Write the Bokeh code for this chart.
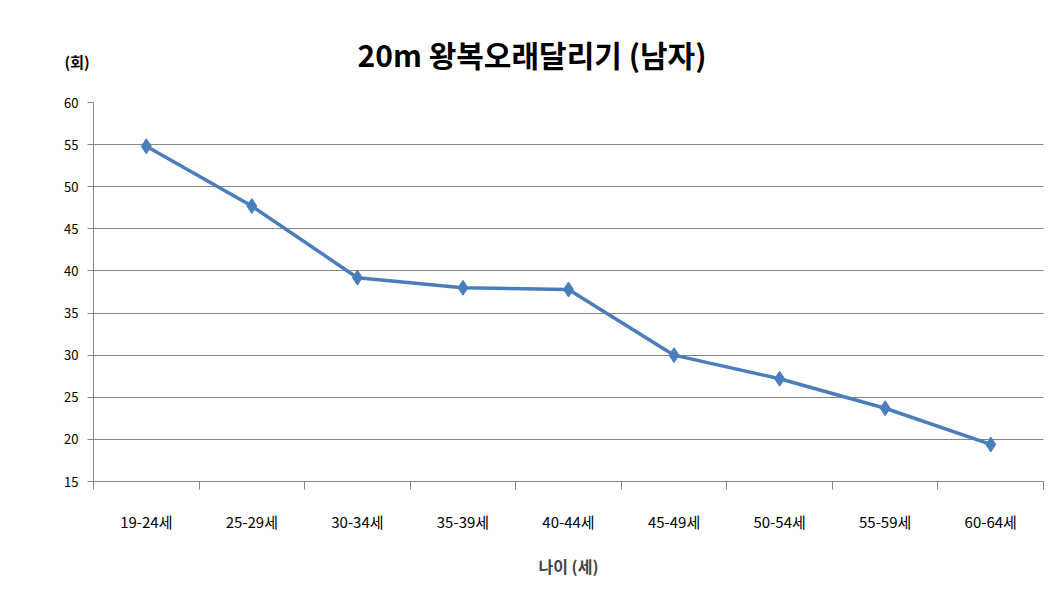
import numpy as np
from bokeh.plotting import figure
from bokeh.models import Range1d, FixedTicker, Title
from bokeh.embed import file_html
from bokeh.resources import INLINE

categories = ["19-24세", "25-29세", "30-34세", "35-39세", "40-44세",
              "45-49세", "50-54세", "55-59세", "60-64세"]
values = [54.8, 47.7, 39.2, 38.0, 37.8, 30.0, 27.2, 23.7, 19.4]
y_ticks = [15, 20, 25, 30, 35, 40, 45, 50, 55, 60]
title_text = "20m 왕복오래달리기 (남자)"
y_unit = "(회)"
x_title = "나이 (세)"

FONT = "Noto Sans CJK KR"
GRAY = "#868686"
BLUE = "#4A7EBB"

n = len(categories)
xs = np.arange(n) + 0.5

p = figure(width=1044, height=588, output_backend="svg", toolbar_location=None,
           x_range=Range1d(0, n), y_range=Range1d(15, 60),
           min_border_left=93, min_border_right=1, min_border_top=102, min_border_bottom=107)

p.title.text = title_text
p.title.align = "left"
p.title.offset = 264
p.title.text_font = FONT
p.title.text_font_size = "30px"
p.title.text_font_style = "bold"
p.title.text_color = "#000000"
p.title.standoff = 54

unit_title = Title(text=y_unit, align="left", offset=-29, vertical_align="top",
                   text_font=FONT, text_font_size="15px", text_font_style="bold",
                   text_color="#000000")
try:
    unit_title.standoff = -104
except Exception:
    unit_title.standoff = 0
p.add_layout(unit_title, "above")

p.outline_line_color = None
p.background_fill_color = "white"
p.border_fill_color = "white"

p.xgrid.grid_line_color = None
p.ygrid.grid_line_color = GRAY
p.ygrid.grid_line_width = 1
p.ygrid.ticker = FixedTicker(ticks=y_ticks)

xa = p.xaxis[0]
xa.ticker = FixedTicker(ticks=list(xs), minor_ticks=list(range(n + 1)))
xa.major_label_overrides = {float(x): c for x, c in zip(xs, categories)}
xa.major_tick_line_color = None
xa.major_tick_out = 0
xa.major_tick_in = 0
xa.minor_tick_line_color = GRAY
xa.minor_tick_out = 8
xa.minor_tick_in = 0
xa.axis_line_color = GRAY
xa.major_label_standoff = 21
xa.major_label_text_font = FONT
xa.major_label_text_font_size = "15px"
xa.major_label_text_color = "#000000"
xa.axis_label = x_title
xa.axis_label_text_font = FONT
xa.axis_label_text_font_size = "16px"
xa.axis_label_text_font_style = "bold"
xa.axis_label_standoff = 19

ya = p.yaxis[0]
ya.ticker = FixedTicker(ticks=y_ticks)
ya.minor_tick_line_color = None
ya.major_tick_line_color = GRAY
ya.major_tick_out = 6
ya.major_tick_in = 0
ya.axis_line_color = GRAY
ya.major_label_standoff = 9
ya.major_label_text_font = FONT
ya.major_label_text_font_size = "13px"
ya.major_label_text_color = "#000000"

p.line(xs, values, line_color=BLUE, line_width=3.5)
p.scatter(xs, values, marker="diamond", size=15, fill_color=BLUE, line_color=BLUE)

open("out.html", "w").write(file_html(p, INLINE))
